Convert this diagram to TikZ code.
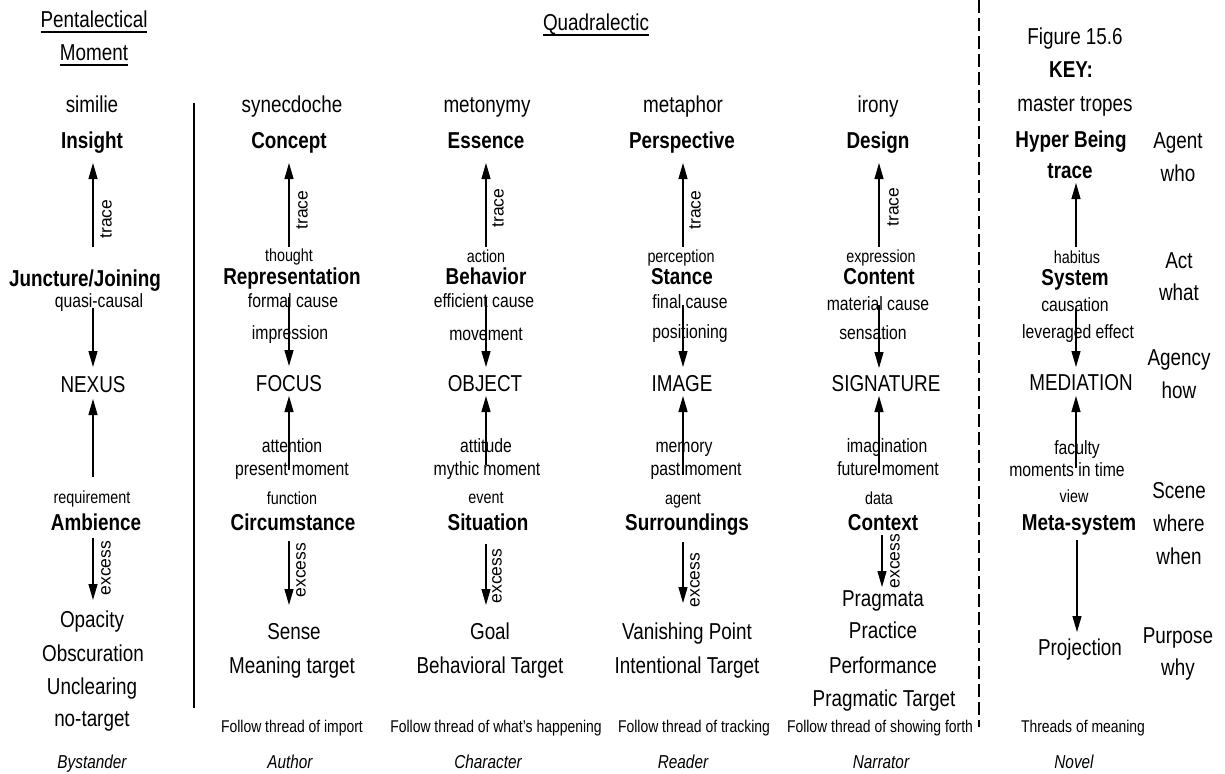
\documentclass[tikz,border=0pt]{standalone}
\usepackage{fontspec}
\setmainfont{Liberation Sans}[FakeStretch=0.82]
\newfontfamily\rotfont{Liberation Sans}
\usetikzlibrary{arrows.meta}

\tikzset{
  txt/.style={anchor=base, inner sep=0pt, outer sep=0pt},
  lg/.style={txt, font=\fontsize{23}{27}\selectfont},
  bd/.style={txt, font=\fontsize{23}{27}\selectfont\bfseries},
  md/.style={txt, font=\fontsize{19.2}{23}\selectfont},
  sm/.style={txt, font=\fontsize{17.5}{21}\selectfont},
  ft/.style={txt, font=\fontsize{17}{20}\selectfont},
  it/.style={txt, font=\fontsize{18.7}{22}\selectfont\itshape},
  rot/.style={rotate=90, inner sep=0pt, font=\rotfont\fontsize{17.5}{20}\selectfont},
  arr/.style={line width=1.2pt, -{Triangle[length=16pt,width=9pt]}},
  uline/.style={line width=1.1pt},
}

\begin{document}
\begin{tikzpicture}[x=1pt,y=-1pt]
\useasboundingbox (0,0) rectangle (1225,773);

% ---------- headings ----------
\node[lg] (pent) at (94,28) {Pentalectical};
\node[lg] (mom) at (94,61) {Moment};
\node[lg] (quad) at (596,31) {Quadralectic};
\draw[uline] ([yshift=-4pt]pent.base west) -- ([yshift=-4pt]pent.base east);
\draw[uline] ([yshift=-4pt]mom.base west) -- ([yshift=-4pt]mom.base east);
\draw[uline] ([yshift=-4pt]quad.base west) -- ([yshift=-4pt]quad.base east);

% ---------- separators ----------
\coordinate (vtop) at (194,103);
\coordinate (vbot) at (194,708);
\draw[line width=1.2pt] (vtop) -- (vbot);
\coordinate (dtop) at (979,0);
\coordinate (dbot) at (979,727);
\draw[line width=1.3pt, dash pattern=on 13pt off 5pt] (dtop) -- (dbot);

% ---------- column 1: pentalectical moment ----------
\node[lg] (c1trope) at (92,113) {similie};
\node[bd] (c1top) at (92,148) {Insight};
\node[bd] (c1mid) at (85,286) {Juncture/Joining};
\node[md] (c1cause) at (99,307) {quasi-causal};
\node[lg] (c1core) at (93,392) {NEXUS};
\node[sm] (c1req) at (92,503) {requirement};
\node[bd] (c1low) at (96,530) {Ambience};
\node[lg] (c1t1) at (92,627) {Opacity};
\node[lg] (c1t2) at (93,661) {Obscuration};
\node[lg] (c1t3) at (92,694) {Unclearing};
\node[lg] (c1t4) at (92,726) {no-target};
\node[it] (c1who) at (92,768) {Bystander};
\node[rot] (c1trace) at (106,219) {trace};
\node[rot] (c1excess) at (106,568) {excess};
\draw[arr] ([xshift=8pt,yshift=39pt]c1mid.base) -- ([xshift=1pt,yshift=-15pt]c1top.base);
\draw[arr] ([xshift=-6pt,yshift=-1pt]c1cause.base) -- ([yshift=25pt]c1core.base);
\draw[arr] ([xshift=1pt,yshift=26pt]c1req.base) -- ([yshift=-7pt]c1core.base);
\draw[arr] ([xshift=-3pt,yshift=-8pt]c1low.base) -- ([xshift=1pt,yshift=27pt]c1t1.base);

% ---------- column 2: synecdoche ----------
\node[lg] (c2trope) at (292,113) {synecdoche};
\node[bd] (c2top) at (289,148) {Concept};
\node[sm] (c2act) at (289,261) {thought};
\node[bd] (c2mid) at (292,284) {Representation};
\node[md] (c2cause) at (293,307) {formal cause};
\node[md] (c2mode) at (290,339) {impression};
\node[lg] (c2core) at (289,391) {FOCUS};
\node[md] (c2fac) at (292,452) {attention};
\node[md] (c2time) at (292,475) {present moment};
\node[sm] (c2view) at (292,504) {function};
\node[bd] (c2low) at (293,530) {Circumstance};
\node[lg] (c2t1) at (294,639) {Sense};
\node[lg] (c2t2) at (292,673) {Meaning target};
\node[ft] (c2thr) at (292,732) {Follow thread of import};
\node[it] (c2who) at (290,768) {Author};
\node[rot] (c2trace) at (302,210) {trace};
\node[rot] (c2excess) at (301,570) {excess};
\draw[arr] ([yshift=14pt]c2act.base) -- ([yshift=-15pt]c2top.base);
\draw[arr] ([xshift=-4pt,yshift=10pt]c2cause.base) -- ([yshift=25pt]c2core.base);
\draw[arr] ([xshift=-3pt,yshift=5pt]c2time.base) -- ([yshift=-5pt]c2core.base);
\draw[arr] ([xshift=-4pt,yshift=-11pt]c2low.base) -- ([xshift=-5pt,yshift=34pt]c2t1.base);

% ---------- column 3: metonymy ----------
\node[lg] (c3trope) at (487,113) {metonymy};
\node[bd] (c3top) at (486,148) {Essence};
\node[sm] (c3act) at (486,262) {action};
\node[bd] (c3mid) at (486,284) {Behavior};
\node[md] (c3cause) at (484,307) {efficient cause};
\node[md] (c3mode) at (486,340) {movement};
\node[lg] (c3core) at (485,391) {OBJECT};
\node[md] (c3fac) at (486,452) {attitude};
\node[md] (c3time) at (487,475) {mythic moment};
\node[sm] (c3view) at (486,503) {event};
\node[bd] (c3low) at (488,530) {Situation};
\node[lg] (c3t1) at (490,639) {Goal};
\node[lg] (c3t2) at (490,673) {Behavioral Target};
\node[ft] (c3thr) at (496,732) {Follow thread of what’s happening};
\node[it] (c3who) at (488,768) {Character};
\node[rot] (c3trace) at (498,208) {trace};
\node[rot] (c3excess) at (497,576) {excess};
\draw[arr] ([yshift=15pt]c3act.base) -- ([yshift=-15pt]c3top.base);
\draw[arr] ([xshift=2pt,yshift=10pt]c3cause.base) -- ([xshift=1pt,yshift=24pt]c3core.base);
\draw[arr] ([xshift=-1pt,yshift=10pt]c3time.base) -- ([xshift=1pt,yshift=-5pt]c3core.base);
\draw[arr] ([xshift=-2pt,yshift=-14pt]c3low.base) -- ([xshift=-4pt,yshift=34pt]c3t1.base);

% ---------- column 4: metaphor ----------
\node[lg] (c4trope) at (683,113) {metaphor};
\node[bd] (c4top) at (682,148) {Perspective};
\node[sm] (c4act) at (681,262) {perception};
\node[bd] (c4mid) at (682,284) {Stance};
\node[md] (c4cause) at (690,308) {final cause};
\node[md] (c4mode) at (690,338) {positioning};
\node[lg] (c4core) at (682,391) {IMAGE};
\node[md] (c4fac) at (684,452) {memory};
\node[md] (c4time) at (696,475) {past moment};
\node[sm] (c4view) at (683,504) {agent};
\node[bd] (c4low) at (687,530) {Surroundings};
\node[lg] (c4t1) at (687,639) {Vanishing Point};
\node[lg] (c4t2) at (687,673) {Intentional Target};
\node[ft] (c4thr) at (694,732) {Follow thread of tracking};
\node[it] (c4who) at (683,768) {Reader};
\node[rot] (c4trace) at (695,210) {trace};
\node[rot] (c4excess) at (695,580) {excess};
\draw[arr] ([xshift=2pt,yshift=15pt]c4act.base) -- ([xshift=1pt,yshift=-15pt]c4top.base);
\draw[arr] ([xshift=-7pt,yshift=3pt]c4cause.base) -- ([xshift=1pt,yshift=24pt]c4core.base);
\draw[arr] ([xshift=-13pt]c4time.base) -- ([xshift=1pt,yshift=-5pt]c4core.base);
\draw[arr] ([xshift=-4pt,yshift=-12pt]c4low.base) -- ([xshift=-4pt,yshift=36pt]c4t1.base);

% ---------- column 5: irony ----------
\node[lg] (c5trope) at (878,113) {irony};
\node[bd] (c5top) at (878,148) {Design};
\node[sm] (c5act) at (881,262) {expression};
\node[bd] (c5mid) at (879,284) {Content};
\node[md] (c5cause) at (878,310) {material cause};
\node[md] (c5mode) at (873,339) {sensation};
\node[lg] (c5core) at (886,391) {SIGNATURE};
\node[md] (c5fac) at (887,452) {imagination};
\node[md] (c5time) at (888,475) {future moment};
\node[sm] (c5view) at (879,504) {data};
\node[bd] (c5low) at (883,530) {Context};
\node[lg] (c5t1) at (883,606) {Pragmata};
\node[lg] (c5t2) at (883,638) {Practice};
\node[lg] (c5t3) at (883,673) {Performance};
\node[lg] (c5t4) at (884,706) {Pragmatic Target};
\node[ft] (c5thr) at (880,732) {Follow thread of showing forth};
\node[it] (c5who) at (881,768) {Narrator};
\node[rot] (c5trace) at (893,207) {trace};
\node[rot] (c5excess) at (895,561) {excess};
\draw[arr] ([xshift=-2pt,yshift=15pt]c5act.base) -- ([xshift=1pt,yshift=-15pt]c5top.base);
\draw[arr] ([xshift=1pt,yshift=5pt]c5cause.base) -- ([xshift=-7pt,yshift=23pt]c5core.base);
\draw[arr] ([xshift=-9pt,yshift=2pt]c5time.base) -- ([xshift=-7pt,yshift=-5pt]c5core.base);
\draw[arr] ([xshift=-1pt,yshift=-5pt]c5low.base) -- ([xshift=-1pt,yshift=19pt]c5t1.base);

% ---------- key column ----------
\node[lg] (kfig) at (1075,45) {Figure 15.6};
\node[bd] (kkey) at (1071,78) {KEY:};
\node[lg] (ktrope) at (1075,112) {master tropes};
\node[bd] (ktop) at (1071,147) {Hyper Being};
\node[bd] (ktrace) at (1070,178) {trace};
\node[sm] (kact) at (1077,263) {habitus};
\node[bd] (kmid) at (1075,285) {System};
\node[md] (kcause) at (1075,311) {causation};
\node[md] (kmode) at (1078,338) {leveraged effect};
\node[lg] (kcore) at (1081,390) {MEDIATION};
\node[md] (kfac) at (1077,454) {faculty};
\node[md] (ktime) at (1067,476) {moments in time};
\node[sm] (kview) at (1074,502) {view};
\node[bd] (klow) at (1079,530) {Meta-system};
\node[lg] (kproj) at (1080,655) {Projection};
\node[ft] (kthr) at (1083,732) {Threads of meaning};
\node[it] (kwho) at (1074,768) {Novel};
\draw[arr] ([xshift=-1pt,yshift=16pt]kact.base) -- ([xshift=6pt,yshift=-5pt]ktrace.base);
\draw[arr] ([xshift=1pt,yshift=3pt]kcause.base) -- ([xshift=-5pt,yshift=23pt]kcore.base);
\draw[arr] ([xshift=9pt,yshift=8pt]ktime.base) -- ([xshift=-5pt,yshift=-6pt]kcore.base);
\draw[arr] ([xshift=-2pt,yshift=-10pt]klow.base) -- ([xshift=-3pt,yshift=23pt]kproj.base);

% ---------- right column: pentad terms ----------
\node[lg] (r1a) at (1178,148) {Agent};
\node[lg] (r1b) at (1178,181) {who};
\node[lg] (r2a) at (1179,268) {Act};
\node[lg] (r2b) at (1179,300) {what};
\node[lg] (r3a) at (1179,365) {Agency};
\node[lg] (r3b) at (1179,398) {how};
\node[lg] (r4a) at (1179,498) {Scene};
\node[lg] (r4b) at (1179,531) {where};
\node[lg] (r4c) at (1179,564) {when};
\node[lg] (r5a) at (1178,643) {Purpose};
\node[lg] (r5b) at (1178,675) {why};

\end{tikzpicture}
\end{document}
